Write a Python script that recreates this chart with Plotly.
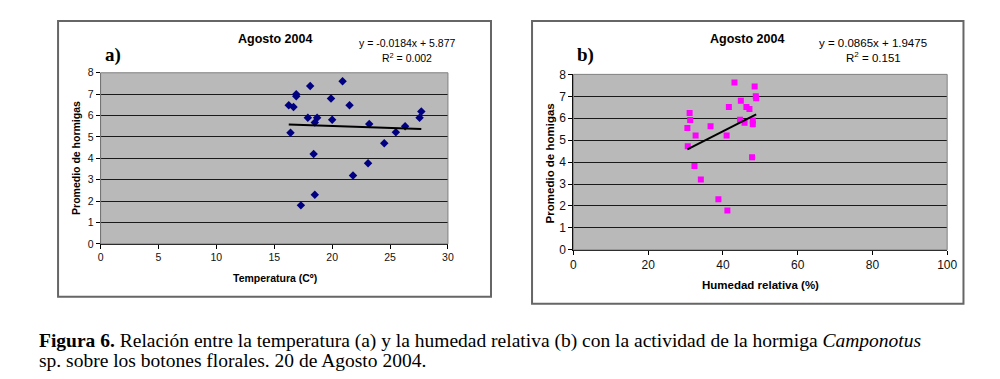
import plotly.graph_objects as go

# ---- Data ----
temp_x = [16.25, 16.66, 16.4, 16.9, 16.9, 17.3, 18.1, 17.9, 18.7, 18.5, 18.4, 18.5,
          19.9, 20.0, 20.9, 21.5, 21.8, 23.2, 23.1, 24.5, 25.5, 26.3, 27.55, 27.7]
temp_y = [6.48, 6.4, 5.2, 7.0, 6.9, 1.8, 7.38, 5.9, 5.9, 5.67, 4.2, 2.3,
          6.8, 5.8, 7.6, 6.48, 3.2, 5.6, 3.77, 4.7, 5.22, 5.5, 5.9, 6.19]

hum_x = [43.1, 48.5, 48.8, 48.9, 44.8, 41.6, 46.3, 47.1, 31.1, 31.25, 44.6, 45.8,
         48.0, 48.0, 30.5, 36.7, 32.7, 41.0, 30.6, 47.8, 32.4, 34.1, 38.8, 41.2]
hum_y = [7.63, 7.45, 7.0, 6.91, 6.8, 6.51, 6.51, 6.42, 6.24, 5.92, 5.93, 5.8,
         5.9, 5.73, 5.55, 5.63, 5.21, 5.21, 4.72, 4.22, 3.82, 3.21, 2.31, 1.8]

# regression coefficients as printed on the chart
slope_a, icpt_a = -0.0184, 5.877
slope_b, icpt_b = 0.0865, 1.9475

x_ticks_a = [0, 5, 10, 15, 20, 25, 30]
x_ticks_b = [0, 20, 40, 60, 80, 100]
y_ticks = [0, 1, 2, 3, 4, 5, 6, 7, 8]

W, H = 1000, 379
# pixel -> paper fraction (calibrated to how the page is rendered)
def px(x): return (x - 3.5) / 986.0
def py(y): return 1 - (y - 7.1) / 364.0

fig = go.Figure()

fig.add_trace(go.Scatter(x=temp_x, y=temp_y, mode="markers",
                         marker=dict(symbol="diamond", color="#000080", size=6.5),
                         xaxis="x", yaxis="y", showlegend=False))
xa = [min(temp_x), max(temp_x)]
fig.add_trace(go.Scatter(x=xa, y=[slope_a * v + icpt_a for v in xa], mode="lines",
                         line=dict(color="black", width=2),
                         xaxis="x", yaxis="y", showlegend=False))

fig.add_trace(go.Scatter(x=hum_x, y=hum_y, mode="markers",
                         marker=dict(symbol="square", color="#ff00ff", size=6),
                         xaxis="x2", yaxis="y2", showlegend=False))
xb = [min(hum_x), max(hum_x)]
fig.add_trace(go.Scatter(x=xb, y=[slope_b * v + icpt_b for v in xb], mode="lines",
                         line=dict(color="black", width=2),
                         xaxis="x2", yaxis="y2", showlegend=False))

tickfont_a = dict(family="Liberation Sans, Arial", size=10.5, color="#111")
tickfont_b = dict(family="Liberation Sans, Arial", size=12, color="#111")
axcommon = dict(showline=True, linecolor="black", linewidth=1, ticks="outside",
                ticklen=4, tickcolor="black", zeroline=False)

fig.update_layout(
    width=W, height=H, autosize=False,
    margin=dict(l=0, r=0, t=0, b=0),
    paper_bgcolor="white",
    plot_bgcolor="#b9b9b9",
    xaxis=dict(domain=[px(101), px(448)], range=[0, 30], tickvals=x_ticks_a,
               showgrid=False, tickfont=tickfont_a, anchor="y", **axcommon),
    yaxis=dict(domain=[py(243.3), py(72.7)], range=[0, 8], tickvals=y_ticks,
               showgrid=True, gridcolor="#1a1a1a", gridwidth=1,
               tickfont=tickfont_a, anchor="x", **axcommon),
    xaxis2=dict(domain=[px(573.3), px(946.7)], range=[0, 100], tickvals=x_ticks_b,
                showgrid=False, tickfont=tickfont_b, anchor="y2", **axcommon),
    yaxis2=dict(domain=[py(249.3), py(74.3)], range=[0, 8], tickvals=y_ticks,
                showgrid=True, gridcolor="#1a1a1a", gridwidth=1,
                tickfont=tickfont_b, anchor="x2", **axcommon),
)

shapes = [
    # outer chart boxes
    dict(type="rect", xref="paper", yref="paper", x0=px(58.5), x1=px(491), y0=py(296), y1=py(21),
         line=dict(color="#666", width=2), layer="below"),
    dict(type="rect", xref="paper", yref="paper", x0=px(532), x1=px(963), y0=py(303), y1=py(21),
         line=dict(color="#666", width=2), layer="below"),
    # plot-area borders (top/right gray)
    dict(type="rect", xref="x domain", yref="y domain", x0=0, x1=1, y0=0, y1=1,
         line=dict(color="#808080", width=1)),
    dict(type="rect", xref="x2 domain", yref="y2 domain", x0=0, x1=1, y0=0, y1=1,
         line=dict(color="#808080", width=1)),
]
fig.update_layout(shapes=shapes)

sans = "Liberation Sans, Arial"
serif = "Liberation Serif, Times New Roman"
ann = []
def A(text, x, y, size, family=sans, xanchor="center", textangle=0, color="black", align="center"):
    ann.append(dict(text=text, x=px(x), y=py(y), xref="paper", yref="paper", showarrow=False,
                    xanchor=xanchor, yanchor="middle", textangle=textangle, align=align,
                    font=dict(family=family, size=size, color=color)))

# panel a
A("<b>Agosto 2004</b>", 275, 39, 12.5)
A("<b>a)</b>", 113, 55, 19, family=serif)
A("y = -0.0184x + 5.877", 407, 43, 10.5)
A("R<sup>2</sup> = 0.002", 407, 57, 10.5)
A("<b>Promedio de hormigas</b>", 77, 158, 10.5, textangle=-90)
A("<b>Temperatura (C\u00ba)</b>", 275, 277, 10.5)
# panel b
A("<b>Agosto 2004</b>", 747, 39, 12.5)
A("<b>b)</b>", 585, 55, 19, family=serif)
A("y = 0.0865x + 1.9475", 873, 43, 11.5)
A("R<sup>2</sup> = 0.151", 873, 57, 11.5)
A("<b>Promedio de homigas</b>", 550, 163, 11.5, textangle=-90)
A("<b>Humedad relativa (%)</b>", 760, 284, 11.5)
# caption
A("<b>Figura 6.</b> Relación entre la temperatura (a) y la humedad relativa (b) con la actividad de la hormiga <i>Camponotus</i>",
  37, 340, 19.5, family=serif, xanchor="left", align="left")
A("sp. sobre los botones florales. 20 de Agosto 2004.", 37, 360, 19.5, family=serif,
  xanchor="left", align="left")
fig.update_layout(annotations=ann)

fig.write_html("out.html", config={"responsive": False, "displayModeBar": False},
               post_script="document.body.style.margin='0';document.body.style.overflow='hidden';")
